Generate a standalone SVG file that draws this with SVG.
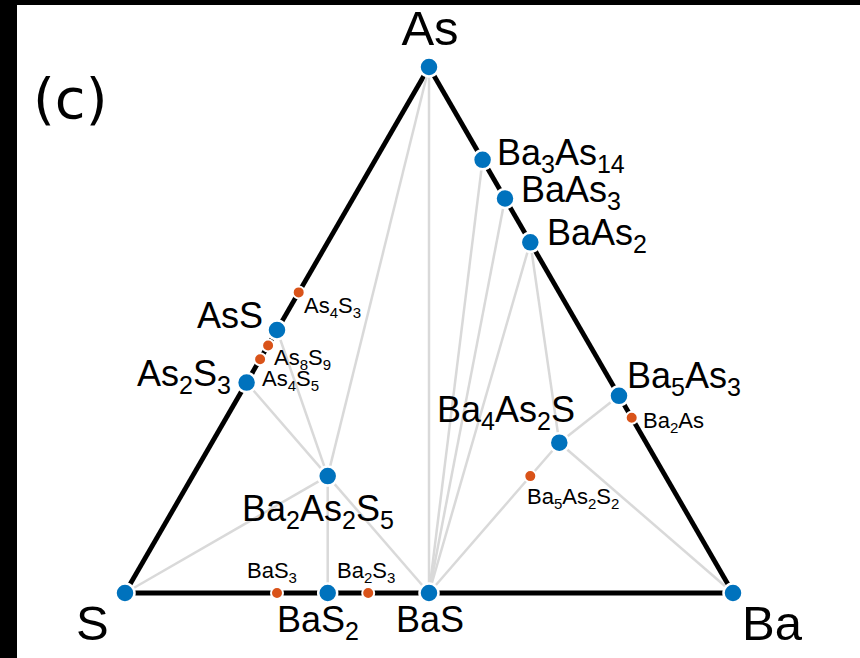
<svg xmlns="http://www.w3.org/2000/svg" width="860" height="658" viewBox="0 0 860 658">
<style>
.edge{stroke:#000;stroke-width:4.8;fill:none}
.tie{stroke:#d9d9d9;stroke-width:2.5;fill:none}
.st{fill:#0072bd;stroke:#fff;stroke-width:2.5}
.un{fill:#d95319;stroke:#fff;stroke-width:2}
text{font-family:"Liberation Sans",Arial,sans-serif;fill:#000}
.L{font-size:49px}
.M{font-size:36px}
.S{font-size:22px}
.M .sb{font-size:25px}
.S .sb{font-size:15px}
</style>
<rect x="0" y="0" width="860" height="658" fill="#fff"/>
<rect x="0" y="0" width="860" height="5" fill="#000"/>
<rect x="0" y="0" width="17" height="658" fill="#000"/>
<text x="33" y="118" style="font-family:'DejaVu Sans',sans-serif;font-size:56px">(c)</text>
<g id="connectors">
<line class="edge" x1="125" y1="593" x2="429" y2="67"/>
<line class="edge" x1="429" y1="67" x2="733" y2="593"/>
<line class="edge" x1="125" y1="593" x2="733" y2="593"/>
<line class="tie" x1="429" y1="67" x2="429" y2="593"/>
<line class="tie" x1="429" y1="67" x2="327.7" y2="476.1"/>
<line class="tie" x1="277" y1="330" x2="327.7" y2="476.1"/>
<line class="tie" x1="246.6" y1="382.6" x2="327.7" y2="476.1"/>
<line class="tie" x1="125" y1="593" x2="327.7" y2="476.1"/>
<line class="tie" x1="327.7" y1="593" x2="327.7" y2="476.1"/>
<line class="tie" x1="429" y1="593" x2="327.7" y2="476.1"/>
<line class="tie" x1="482.6" y1="159.8" x2="429" y2="593"/>
<line class="tie" x1="505" y1="198.5" x2="429" y2="593"/>
<line class="tie" x1="530.3" y1="242.3" x2="429" y2="593"/>
<line class="tie" x1="530.3" y1="242.3" x2="559.3" y2="442.7"/>
<line class="tie" x1="619" y1="395.8" x2="559.3" y2="442.7"/>
<line class="tie" x1="559.3" y1="442.7" x2="429" y2="593"/>
<line class="tie" x1="559.3" y1="442.7" x2="733" y2="593"/>
</g>
<g id="As"><circle class="st" cx="429" cy="67" r="9.5"/><text class="L" x="430" y="45" text-anchor="middle">As</text></g>
<g id="S"><circle class="st" cx="125" cy="593" r="9.5"/><text class="L" x="76" y="640">S</text></g>
<g id="Ba"><circle class="st" cx="733" cy="593" r="9.5"/><text class="L" x="742" y="640">Ba</text></g>
<g id="BaS"><circle class="st" cx="429" cy="593" r="9.5"/><text class="M" x="396" y="632">BaS</text></g>
<g id="BaS2"><circle class="st" cx="327.7" cy="593" r="9.5"/><text class="M" x="277" y="632">BaS<tspan class="sb" dy="8">2</tspan></text></g>
<g id="BaS3"><circle class="un" cx="277" cy="593" r="6"/><text class="S" x="247" y="578">BaS<tspan class="sb" dy="5">3</tspan></text></g>
<g id="Ba2S3"><circle class="un" cx="368.2" cy="593" r="6"/><text class="S" x="337" y="578">Ba<tspan class="sb" dy="5">2</tspan><tspan dy="-5">S</tspan><tspan class="sb" dy="5">3</tspan></text></g>
<g id="AsS"><circle class="st" cx="277" cy="330" r="9.5"/><text class="M" x="263" y="328" text-anchor="end">AsS</text></g>
<g id="As2S3"><circle class="st" cx="246.6" cy="382.6" r="9.5"/><text class="M" x="137" y="386">As<tspan class="sb" dy="8">2</tspan><tspan dy="-8">S</tspan><tspan class="sb" dy="8">3</tspan></text></g>
<g id="As4S3"><circle class="un" cx="298.7" cy="292.4" r="6"/><text class="S" x="304" y="313">As<tspan class="sb" dy="5">4</tspan><tspan dy="-5">S</tspan><tspan class="sb" dy="5">3</tspan></text></g>
<g id="As8S9"><circle class="un" cx="268.1" cy="345.5" r="6"/><text class="S" x="274" y="365">As<tspan class="sb" dy="5">8</tspan><tspan dy="-5">S</tspan><tspan class="sb" dy="5">9</tspan></text></g>
<g id="As4S5"><circle class="un" cx="260.1" cy="359.2" r="6"/><text class="S" x="262" y="386">As<tspan class="sb" dy="5">4</tspan><tspan dy="-5">S</tspan><tspan class="sb" dy="5">5</tspan></text></g>
<g id="Ba3As14"><circle class="st" cx="482.6" cy="159.8" r="9.5"/><text class="M" x="497" y="165">Ba<tspan class="sb" dy="8">3</tspan><tspan dy="-8">As</tspan><tspan class="sb" dy="8">14</tspan></text></g>
<g id="BaAs3"><circle class="st" cx="505" cy="198.5" r="9.5"/><text class="M" x="521" y="202">BaAs<tspan class="sb" dy="8">3</tspan></text></g>
<g id="BaAs2"><circle class="st" cx="530.3" cy="242.3" r="9.5"/><text class="M" x="547" y="245">BaAs<tspan class="sb" dy="8">2</tspan></text></g>
<g id="Ba5As3"><circle class="st" cx="619" cy="395.8" r="9.5"/><text class="M" x="627" y="388">Ba<tspan class="sb" dy="8">5</tspan><tspan dy="-8">As</tspan><tspan class="sb" dy="8">3</tspan></text></g>
<g id="Ba2As"><circle class="un" cx="631.7" cy="417.7" r="6"/><text class="S" x="643" y="428">Ba<tspan class="sb" dy="5">2</tspan><tspan dy="-5">As</tspan></text></g>
<g id="Ba4As2S"><circle class="st" cx="559.3" cy="442.7" r="9.5"/><text class="M" x="437" y="422">Ba<tspan class="sb" dy="8">4</tspan><tspan dy="-8">As</tspan><tspan class="sb" dy="8">2</tspan><tspan dy="-8">S</tspan></text></g>
<g id="Ba5As2S2"><circle class="un" cx="530.3" cy="476.1" r="6"/><text class="S" x="527" y="504">Ba<tspan class="sb" dy="5">5</tspan><tspan dy="-5">As</tspan><tspan class="sb" dy="5">2</tspan><tspan dy="-5">S</tspan><tspan class="sb" dy="5">2</tspan></text></g>
<g id="Ba2As2S5"><circle class="st" cx="327.7" cy="476.1" r="9.5"/><text class="M" x="242" y="521">Ba<tspan class="sb" dy="8">2</tspan><tspan dy="-8">As</tspan><tspan class="sb" dy="8">2</tspan><tspan dy="-8">S</tspan><tspan class="sb" dy="8">5</tspan></text></g>
</svg>
